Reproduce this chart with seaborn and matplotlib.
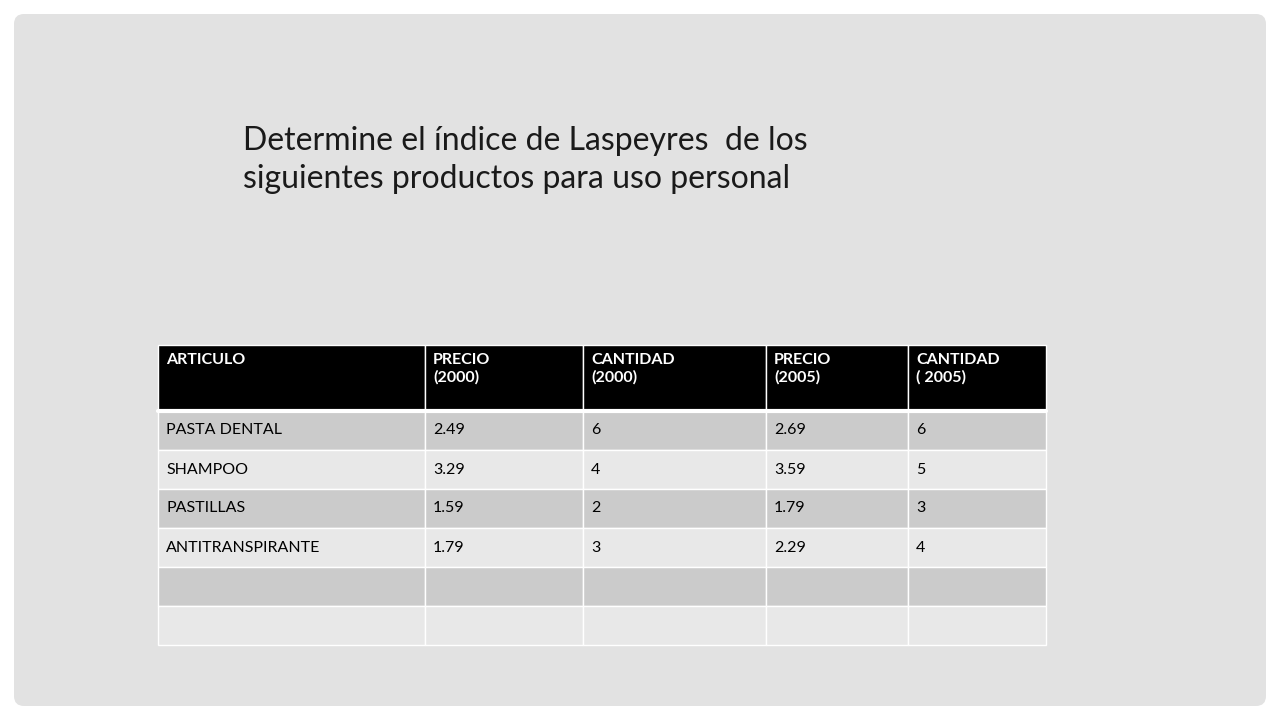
import seaborn as sns
import matplotlib.pyplot as plt
from matplotlib.patches import Rectangle, FancyBboxPatch

sns.set_theme(style="white")

title = "Determine el índice de Laspeyres  de los\nsiguientes productos para uso personal"
headers = ["ARTICULO", "PRECIO\n(2000)", "CANTIDAD\n(2000)", "PRECIO\n(2005)", "CANTIDAD\n( 2005)"]
articulos = ["PASTA DENTAL", "SHAMPOO", "PASTILLAS", "ANTITRANSPIRANTE", "", ""]
precio_2000 = ["2.49", "3.29", "1.59", "1.79", "", ""]
cantidad_2000 = ["6", "4", "2", "3", "", ""]
precio_2005 = ["2.69", "3.59", "1.79", "2.29", "", ""]
cantidad_2005 = ["6", "5", "3", "4", "", ""]

col_edges = [158, 425, 583, 766, 908, 1046]
header_top, header_bottom = 345, 411
row_h = 39

fig = plt.figure(figsize=(12.8, 7.2), dpi=100)
fig.patch.set_facecolor("white")
ax = fig.add_axes([0, 0, 1, 1])
ax.set_xlim(0, 1280)
ax.set_ylim(720, 0)
ax.axis("off")

ax.add_patch(FancyBboxPatch((14, 14), 1252, 692, boxstyle="round,pad=0,rounding_size=10",
                            fc="#e2e2e2", ec="none"))

font = "Lato"
ax.text(243, 160, title, fontsize=23, family=font, va="center", ha="left",
        color="#1a1a1a", linespacing=1.3)

# header
for i, h in enumerate(headers):
    x0, x1 = col_edges[i], col_edges[i + 1]
    ax.add_patch(Rectangle((x0, header_top), x1 - x0, header_bottom - header_top,
                           fc="black", ec="white", lw=1))
    ax.text(x0 + 8, header_top + 8, h, fontsize=11.5, family=font, weight="bold",
            color="white", va="top", ha="left", linespacing=1.25)

columns = [articulos, precio_2000, cantidad_2000, precio_2005, cantidad_2005]
for r in range(len(articulos)):
    y0 = header_bottom + r * row_h
    fc = "#cbcbcb" if r % 2 == 0 else "#e8e8e8"
    for c, col in enumerate(columns):
        x0, x1 = col_edges[c], col_edges[c + 1]
        ax.add_patch(Rectangle((x0, y0), x1 - x0, row_h, fc=fc, ec="white", lw=1))
        ax.text(x0 + 8, y0 + row_h / 2, col[r], fontsize=11.5, family=font,
                color="black", va="center", ha="left")
# thicker line under header
ax.plot([col_edges[0], col_edges[-1]], [header_bottom, header_bottom], color="white", lw=3)

fig.savefig("out.png", dpi=100)
